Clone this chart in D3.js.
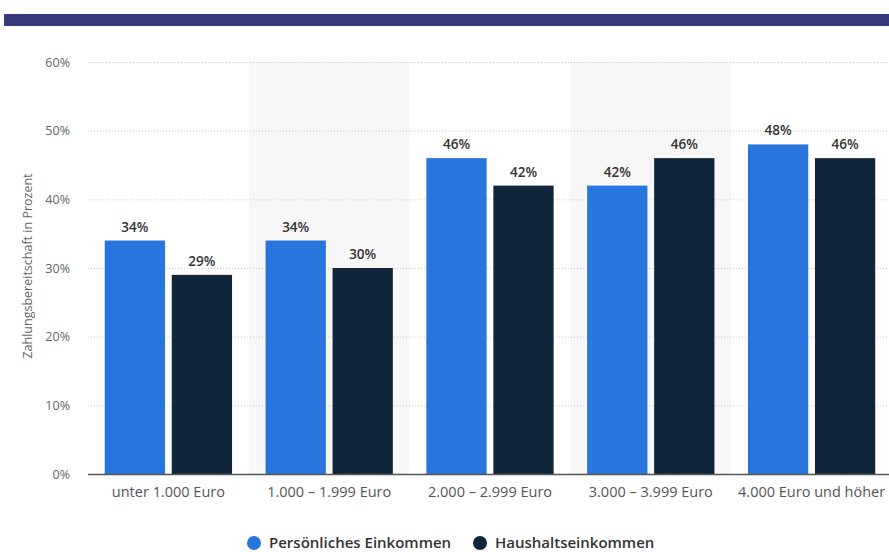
<!DOCTYPE html>
<html>
<head>
<meta charset="utf-8">
<script src="https://cdn.jsdelivr.net/npm/d3@7"></script>
<style>
  body { margin: 0; background: #fff; font-family: "Open Sans", sans-serif; }
  svg { display: block; }
</style>
</head>
<body>
<svg id="chart" width="889" height="552"></svg>
<script>
var categories = ["unter 1.000 Euro", "1.000 - 1.999 Euro", "2.000 - 2.999 Euro", "3.000 - 3.999 Euro", "4.000 Euro und höher"];
var seriesNames = ["Persönliches Einkommen", "Haushaltseinkommen"];
var persoenlich = [34, 34, 46, 42, 48];
var haushalt = [29, 30, 42, 46, 46];
var yTicks = [0, 10, 20, 30, 40, 50, 60];
var colors = ["#2876dd", "#12263b"];

var svg = d3.select("#chart");

// top band
svg.append("rect").attr("x", 4).attr("y", 14).attr("width", 885).attr("height", 12).attr("fill", "#383b7b");

var margin = {top: 62, bottom: 474, left: 88, right: 892};

var x = d3.scaleBand().domain(categories).range([margin.left, margin.right]).padding(0);
var xs = d3.scaleBand().domain(seriesNames).range([0, x.bandwidth()]).paddingInner(0.1).paddingOuter(0.25);
var y = d3.scaleLinear().domain([0, 60]).range([margin.bottom, margin.top]);

// alternating shaded bands
svg.selectAll("rect.shade")
  .data(categories.filter(function(d, i){ return i % 2 === 1; }))
  .enter().append("rect")
  .attr("class", "shade")
  .attr("x", function(d){ return x(d); })
  .attr("y", y(60))
  .attr("width", x.bandwidth())
  .attr("height", y(0) - y(60))
  .attr("fill", "#f7f7f7");

// grid
svg.selectAll("line.grid")
  .data(yTicks.slice(1))
  .enter().append("line")
  .attr("class", "grid")
  .attr("x1", margin.left).attr("x2", 889)
  .attr("y1", function(d){ return y(d) + 0.5; })
  .attr("y2", function(d){ return y(d) + 0.5; })
  .attr("stroke", "#c8c8c8")
  .attr("stroke-dasharray", "1,2");

// y axis labels
var yAxis = d3.axisLeft(y).tickValues(yTicks).tickSize(0).tickPadding(0)
  .tickFormat(function(d){ return d + "%"; });
var gy = svg.append("g").attr("transform", "translate(70,0)").call(yAxis);
gy.select(".domain").remove();
gy.selectAll("text").attr("fill", "#666").style("font-size", "12.5px").style("font-family", "Open Sans");

svg.append("text")
  .attr("transform", "translate(32," + (y(30) - 2) + ") rotate(-90)")
  .attr("text-anchor", "middle")
  .attr("fill", "#666")
  .style("font-size", "12.5px")
  .text("Zahlungsbereitschaft in Prozent");

// bars
var rows = categories.map(function(c, i){
  return {cat: c, values: [persoenlich[i], haushalt[i]]};
});

var groups = svg.selectAll("g.group").data(rows).enter().append("g")
  .attr("class", "group")
  .attr("transform", function(d){ return "translate(" + x(d.cat) + ",0)"; });

groups.selectAll("rect").data(function(d){
    return d.values.map(function(v, j){ return {s: seriesNames[j], v: v, j: j}; });
  })
  .enter().append("rect")
  .attr("x", function(d){ return xs(d.s); })
  .attr("y", function(d){ return y(d.v); })
  .attr("width", xs.bandwidth())
  .attr("height", function(d){ return y(0) - y(d.v); })
  .attr("fill", function(d){ return colors[d.j]; });

groups.selectAll("text").data(function(d){
    return d.values.map(function(v, j){ return {s: seriesNames[j], v: v}; });
  })
  .enter().append("text")
  .attr("x", function(d){ return xs(d.s) + xs.bandwidth() / 2; })
  .attr("y", function(d){ return y(d.v) - 9; })
  .attr("text-anchor", "middle")
  .attr("fill", "#333")
  .style("font-size", "13.5px")
  .style("font-weight", "600")
  .text(function(d){ return d.v + "%"; });

// baseline
svg.append("line").attr("x1", margin.left).attr("x2", 889)
  .attr("y1", y(0) + 0.5).attr("y2", y(0) + 0.5)
  .attr("stroke", "#555").attr("stroke-width", 1.5);

// x axis labels
var xAxis = d3.axisBottom(x).tickSize(0).tickPadding(0);
var gx = svg.append("g").attr("transform", "translate(0," + (y(0) + 13) + ")").call(xAxis);
gx.select(".domain").remove();
gx.selectAll("text").attr("fill", "#555").style("font-size", "14.5px").style("font-family", "Open Sans")
  .text(function(d){ return d.replace(" - ", " – "); });

// legend
var legendX = [254, 480];
var legend = svg.selectAll("g.legend").data(seriesNames).enter().append("g")
  .attr("class", "legend")
  .attr("transform", function(d, i){ return "translate(" + legendX[i] + ",543)"; });
legend.append("circle").attr("r", 7).attr("fill", function(d, i){ return colors[i]; });
legend.append("text").attr("x", 15).attr("dy", "0.35em")
  .attr("fill", "#333")
  .style("font-size", "15px")
  .style("font-weight", "600")
  .text(function(d){ return d; });
</script>
</body>
</html>
